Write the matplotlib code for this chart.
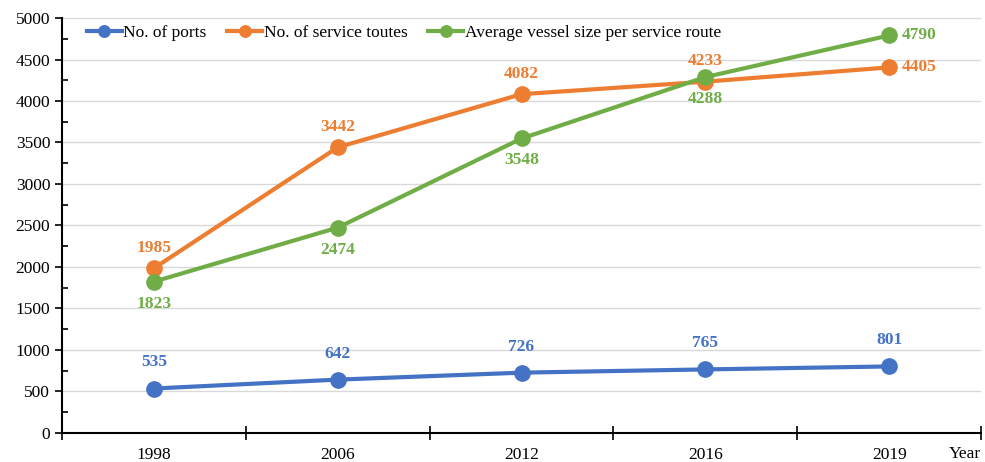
import matplotlib.pyplot as plt
from matplotlib.ticker import MultipleLocator, FixedLocator

plt.rcParams['font.family'] = ['Liberation Serif', 'DejaVu Serif']

years = ['1998', '2006', '2012', '2016', '2019']
ports = [535, 642, 726, 765, 801]
routes = [1985, 3442, 4082, 4233, 4405]
vessel = [1823, 2474, 3548, 4288, 4790]

blue = '#4472C4'
orange = '#ED7D31'
green = '#70AD47'

fig = plt.figure(figsize=(9.85, 4.62), dpi=100)
ax = fig.add_axes([0.063, 0.063, 0.933, 0.898])
x = list(range(len(years)))

ax.plot(x, ports, '-o', color=blue, lw=3, ms=11, label='No. of ports', zorder=3)
ax.plot(x, routes, '-o', color=orange, lw=3, ms=11, label='No. of service toutes', zorder=3)
ax.plot(x, vessel, '-o', color=green, lw=3, ms=11, label='Average vessel size per service route', zorder=3)

lab = dict(fontsize=12.5, fontweight='bold', ha='center')
side = dict(fontsize=12.5, fontweight='bold', ha='left', va='center')
for i, v in enumerate(ports):
    ax.annotate(str(v), (i, v), xytext=(0, 13), textcoords='offset points', color=blue, va='bottom', **lab)
for i, v in enumerate(routes):
    if i == len(routes) - 1:
        ax.annotate(str(v), (i, v), xytext=(9, 0), textcoords='offset points', color=orange, **side)
    else:
        ax.annotate(str(v), (i, v), xytext=(0, 9), textcoords='offset points', color=orange, va='bottom', **lab)
for i, v in enumerate(vessel):
    if i == len(vessel) - 1:
        ax.annotate(str(v), (i, v), xytext=(9, 0), textcoords='offset points', color=green, **side)
    else:
        ax.annotate(str(v), (i, v), xytext=(0, -10), textcoords='offset points', color=green, va='top', **lab)

ax.set_xlim(-0.5, len(years) - 0.5)
ax.set_ylim(0, 5000)
ax.yaxis.set_major_locator(MultipleLocator(500))
ax.yaxis.set_minor_locator(MultipleLocator(250))
ax.set_xticks(x)
ax.set_xticklabels(years)
ax.xaxis.set_minor_locator(FixedLocator([i - 0.5 for i in range(len(years) + 1)]))
ax.tick_params(axis='x', which='major', length=0, labelsize=12.5, pad=10)
ax.tick_params(axis='x', which='minor', direction='inout', length=10, width=1.2)
ax.tick_params(axis='y', which='major', direction='out', length=5, width=1.2, labelsize=12.5)
ax.tick_params(axis='y', which='minor', direction='in', length=4, width=1.2)

ax.grid(axis='y', color='#D9D9D9', lw=1)
ax.set_axisbelow(True)
for s in ['top', 'right']:
    ax.spines[s].set_visible(False)
for s in ['left', 'bottom']:
    ax.spines[s].set_linewidth(1.5)

ax.text(1.0, -0.05, 'Year', transform=ax.transAxes, ha='right', va='center', fontsize=12.5)

ax.legend(loc='upper left', bbox_to_anchor=(0.01, 1.02), ncol=3, frameon=False, fontsize=12.5,
          handlelength=2.0, handletextpad=0.1, columnspacing=1.2, markerscale=0.75)

fig.savefig('out.png', dpi=100)
